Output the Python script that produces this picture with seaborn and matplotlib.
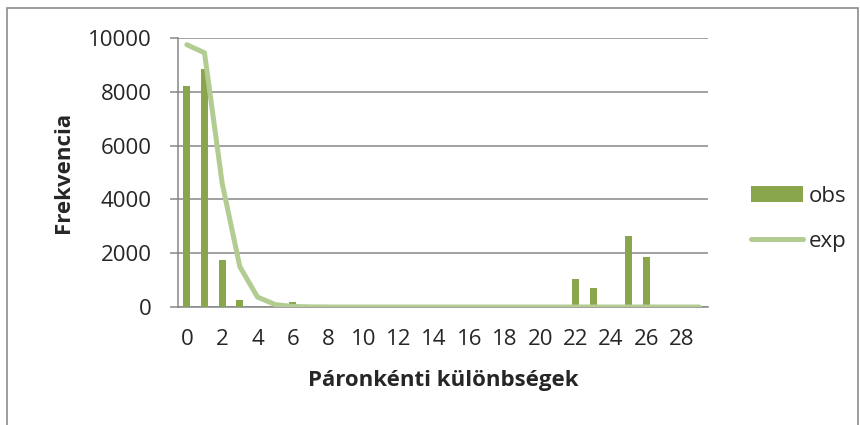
#!/usr/bin/env python3
"""
Observed vs expected pairwise differences (obs bars, exp line)
"""
import matplotlib
matplotlib.use('Agg')
import matplotlib.pyplot as plt
from matplotlib.patches import Rectangle
import pandas as pd
import seaborn as sns

# pairwise differences 0..29
diffs = list(range(30))
obs = [8200, 8850, 1750, 250, 0, 0, 200, 0, 0, 0,
       0, 0, 0, 0, 0, 0, 0, 0, 0, 0,
       0, 0, 1050, 700, 0, 2650, 1850, 0, 0, 0]
exp = [9750, 9450, 4600, 1500, 370, 90, 20, 5, 0, 0,
       0, 0, 0, 0, 0, 0, 0, 0, 0, 0,
       0, 0, 0, 0, 0, 0, 0, 0, 0, 0]
tick_labels = [str(d) if d % 2 == 0 else '' for d in diffs]

BAR_COLOR = '#8aa64c'
LINE_COLOR = '#b3cc92'
GRID_COLOR = '#878787'
FS = 16

sns.set_theme(style='white')
plt.rcParams['font.family'] = ['Open Sans', 'DejaVu Sans']

df = pd.DataFrame({'diff': diffs, 'obs': obs, 'exp': exp})

fig = plt.figure(figsize=(8.6, 4.25), dpi=100)
ax = fig.add_axes([178 / 860, 1 - 307 / 425, 530 / 860, 269 / 425])

sns.barplot(data=df, x='diff', y='obs', color=BAR_COLOR, width=0.4,
            saturation=1, linewidth=0, ax=ax, label='obs', zorder=3)
sns.lineplot(x=list(range(len(diffs))), y=exp, color=LINE_COLOR,
             linewidth=3.6, ax=ax, label='exp', zorder=4,
             solid_capstyle='round')

ax.set_ylim(0, 10000)
ax.set_xlim(-0.5, len(diffs) - 0.5)
ax.set_yticks(range(0, 10001, 2000))
ax.set_xticks(range(len(diffs)))
ax.set_xticklabels(tick_labels)
ax.tick_params(axis='x', length=0, labelsize=FS, pad=16)
ax.tick_params(axis='y', length=6, width=1.1, color=GRID_COLOR,
               direction='out', labelsize=FS, pad=13, left=True)
ax.yaxis.grid(True, color=GRID_COLOR, linewidth=1.1, zorder=0)
ax.set_axisbelow(True)

for side in ['top', 'right']:
    ax.spines[side].set_visible(False)
for side in ['left', 'bottom']:
    ax.spines[side].set_color(GRID_COLOR)
    ax.spines[side].set_linewidth(1.1)

ax.set_xlabel('Páronkénti különbségek', fontsize=FS, fontweight='bold')
ax.set_ylabel('Frekvencia', fontsize=FS, fontweight='bold')
ax.xaxis.set_label_coords(0.5, -(370 - 307) / 269)
ax.yaxis.set_label_coords(-(178 - 74) / 530, 0.5)

ax.legend_.remove()
handles, labels = ax.get_legend_handles_labels()
order = [labels.index('obs'), labels.index('exp')]
fig.legend([handles[i] for i in order], [labels[i] for i in order],
           loc='center left', bbox_to_anchor=(751 / 860, 1 - 219 / 425),
           frameon=False, fontsize=FS, handlelength=2.36, handleheight=0.72,
           labelspacing=1.1, handletextpad=0.25, borderpad=0,
           borderaxespad=0)

# outer chart frame
fig.patches.append(Rectangle((7 / 860, -0.2), 851 / 860, 1.2 - 8 / 425,
                             transform=fig.transFigure, fill=False,
                             edgecolor='#8c8c8c', linewidth=1.2))

plt.savefig('out.png', dpi=100)
plt.close()
